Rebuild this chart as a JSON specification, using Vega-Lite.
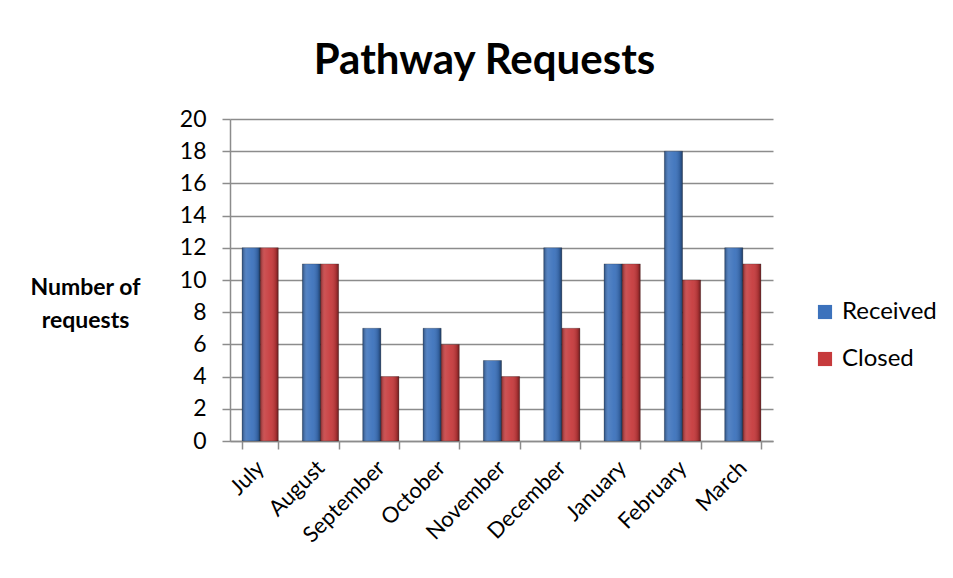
{
  "$schema": "https://vega.github.io/schema/vega-lite/v6.json",
  "autosize": "none",
  "width": 543,
  "height": 322,
  "padding": {"left": 230, "top": 119, "right": 180, "bottom": 137},
  "background": "white",
  "config": {
    "font": "Lato",
    "view": {"stroke": null},
    "axis": {"labelFont": "Lato", "titleFont": "Lato"}
  },
  "title": {
    "text": "Pathway Requests",
    "font": "Lato",
    "fontSize": 42,
    "fontWeight": "bold",
    "color": "#000000",
    "anchor": "middle",
    "frame": "group",
    "dx": -17,
    "offset": 25
  },
  "data": {
    "values": [
      {"month": "July", "series": "Received", "value": 12},
      {"month": "July", "series": "Closed", "value": 12},
      {"month": "August", "series": "Received", "value": 11},
      {"month": "August", "series": "Closed", "value": 11},
      {"month": "September", "series": "Received", "value": 7},
      {"month": "September", "series": "Closed", "value": 4},
      {"month": "October", "series": "Received", "value": 7},
      {"month": "October", "series": "Closed", "value": 6},
      {"month": "November", "series": "Received", "value": 5},
      {"month": "November", "series": "Closed", "value": 4},
      {"month": "December", "series": "Received", "value": 12},
      {"month": "December", "series": "Closed", "value": 7},
      {"month": "January", "series": "Received", "value": 11},
      {"month": "January", "series": "Closed", "value": 11},
      {"month": "February", "series": "Received", "value": 18},
      {"month": "February", "series": "Closed", "value": 10},
      {"month": "March", "series": "Received", "value": 12},
      {"month": "March", "series": "Closed", "value": 11}
    ]
  },
  "encoding": {
    "x": {
      "field": "month",
      "type": "nominal",
      "sort": ["July", "August", "September", "October", "November", "December", "January", "February", "March"],
      "scale": {"paddingInner": 0.4, "paddingOuter": 0.2},
      "axis": {
        "title": null,
        "labelAngle": -45,
        "labelAlign": "right",
        "labelBaseline": "middle",
        "labelFontSize": 22,
        "labelColor": "#000000",
        "labelPadding": 15,
        "tickBand": "extent",
        "tickSize": 8,
        "tickColor": "#8c8c8c",
        "tickWidth": 1.5,
        "domainColor": "#8c8c8c",
        "domainWidth": 1.5,
        "grid": false
      }
    },
    "xOffset": {
      "field": "series",
      "type": "nominal",
      "sort": ["Received", "Closed"],
      "scale": {"paddingInner": 0, "paddingOuter": 0}
    },
    "y": {
      "field": "value",
      "type": "quantitative",
      "scale": {"domain": [0, 20], "nice": false},
      "axis": {
        "values": [0, 2, 4, 6, 8, 10, 12, 14, 16, 18, 20],
        "title": ["Number of", "requests"],
        "titleAngle": 0,
        "titleAlign": "center",
        "titleBaseline": "middle",
        "titleX": -145,
        "titleY": 168,
        "titleFontSize": 23,
        "titleFontWeight": "bold",
        "titleColor": "#000000",
        "titleLineHeight": 33,
        "labelFontSize": 23,
        "labelColor": "#000000",
        "labelPadding": 16,
        "tickSize": 8,
        "tickColor": "#8c8c8c",
        "tickWidth": 1.5,
        "domainColor": "#8c8c8c",
        "domainWidth": 1.5,
        "grid": true,
        "gridColor": "#8c8c8c",
        "gridWidth": 1.5
      }
    }
  },
  "layer": [
    {
      "mark": {"type": "bar", "stroke": "#1a1a1a", "strokeOpacity": 0.35, "strokeWidth": 0.8},
      "encoding": {
        "color": {
          "field": "series",
          "type": "nominal",
          "sort": ["Received", "Closed"],
          "scale": {"domain": ["Received", "Closed"], "range": ["#3C72BC", "#C63A3C"]},
          "legend": {
            "title": null,
            "orient": "none",
            "legendX": 583,
            "legendY": 181,
            "symbolType": "square",
            "symbolSize": 200,
            "symbolStrokeWidth": 0,
            "labelFontSize": 24,
            "labelColor": "#000000",
            "labelOffset": 5,
            "rowPadding": 23
          }
        }
      }
    },
    {
      "mark": {
        "type": "bar",
        "fill": {
          "x1": 0, "y1": 0, "x2": 1, "y2": 0,
          "gradient": "linear",
          "stops": [
            {"offset": 0, "color": "rgba(0,0,0,0.35)"},
            {"offset": 0.25, "color": "rgba(255,255,255,0.12)"},
            {"offset": 0.55, "color": "rgba(255,255,255,0.05)"},
            {"offset": 0.85, "color": "rgba(0,0,0,0.15)"},
            {"offset": 1, "color": "rgba(0,0,0,0.45)"}
          ]
        }
      }
    }
  ]
}
